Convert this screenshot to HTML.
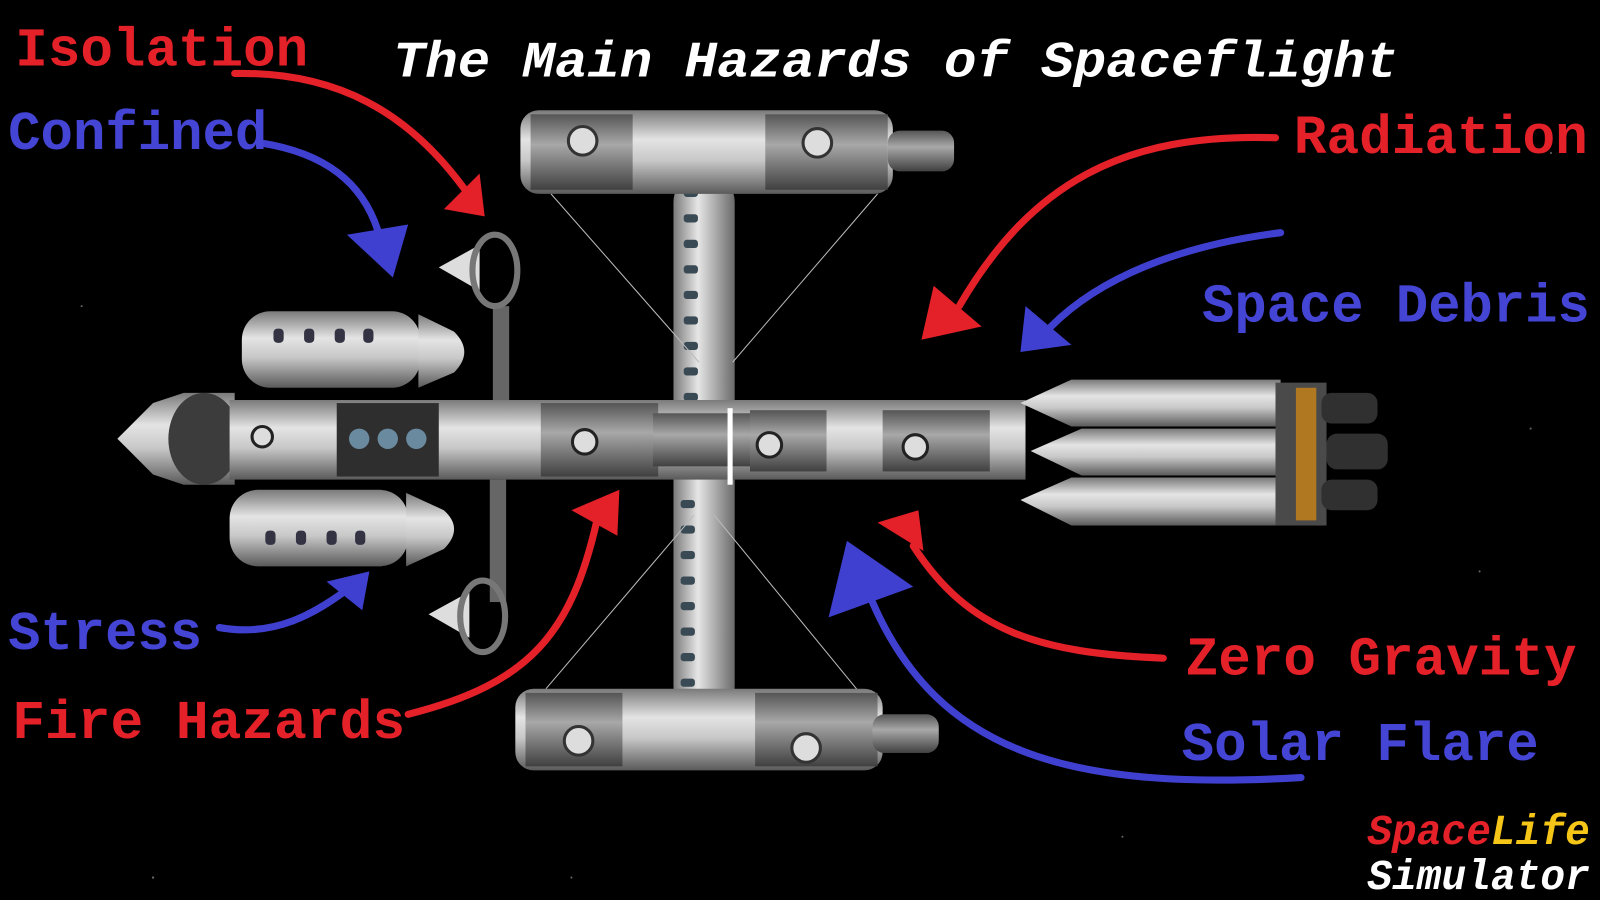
<!DOCTYPE html>
<html><head><meta charset="utf-8"><style>
html,body{margin:0;padding:0;background:#000;width:1600px;height:900px;overflow:hidden}
svg{display:block}
text{font-family:"Liberation Mono",monospace;}
</style></head><body>
<svg width="1600" height="900" viewBox="0 0 1568 882" preserveAspectRatio="none" xmlns="http://www.w3.org/2000/svg">
<defs>
<linearGradient id="cyl" x1="0" y1="0" x2="0" y2="1">
<stop offset="0" stop-color="#7a7a7a"/><stop offset="0.35" stop-color="#e4e4e4"/><stop offset="0.6" stop-color="#c8c8c8"/><stop offset="1" stop-color="#5a5a5a"/></linearGradient>
<linearGradient id="cylv" x1="0" y1="0" x2="1" y2="0">
<stop offset="0" stop-color="#7a7a7a"/><stop offset="0.4" stop-color="#e6e6e6"/><stop offset="1" stop-color="#6a6a6a"/></linearGradient>
<linearGradient id="dark" x1="0" y1="0" x2="0" y2="1">
<stop offset="0" stop-color="#555"/><stop offset="0.4" stop-color="#a8a8a8"/><stop offset="1" stop-color="#404040"/></linearGradient>
</defs>
<rect width="1568" height="882" fill="#000"/>
<g fill="#666"><circle cx="80" cy="300" r="1"/><circle cx="1450" cy="560" r="1"/><circle cx="1500" cy="420" r="1"/><circle cx="150" cy="860" r="1.2"/><circle cx="1100" cy="820" r="1"/><circle cx="560" cy="860" r="1"/><circle cx="1520" cy="150" r="1"/></g>

<rect x="660" y="170" width="60" height="530" rx="28" fill="url(#cylv)"/>
<g fill="#3a4a55"><rect x="670" y="185" width="14" height="8" rx="3"/><rect x="670" y="210" width="14" height="8" rx="3"/><rect x="670" y="235" width="14" height="8" rx="3"/><rect x="670" y="260" width="14" height="8" rx="3"/><rect x="670" y="285" width="14" height="8" rx="3"/><rect x="670" y="310" width="14" height="8" rx="3"/><rect x="670" y="335" width="14" height="8" rx="3"/><rect x="670" y="360" width="14" height="8" rx="3"/><rect x="670" y="385" width="14" height="8" rx="3"/>
<rect x="667" y="490" width="14" height="8" rx="3"/><rect x="667" y="515" width="14" height="8" rx="3"/><rect x="667" y="540" width="14" height="8" rx="3"/><rect x="667" y="565" width="14" height="8" rx="3"/><rect x="667" y="590" width="14" height="8" rx="3"/><rect x="667" y="615" width="14" height="8" rx="3"/><rect x="667" y="640" width="14" height="8" rx="3"/><rect x="667" y="665" width="14" height="8" rx="3"/></g>
<g stroke="#bbb" stroke-width="1"><line x1="540" y1="190" x2="685" y2="355"/><line x1="860" y1="190" x2="718" y2="355"/><line x1="535" y1="675" x2="680" y2="505"/><line x1="850" y1="688" x2="700" y2="505"/></g>

<rect x="510" y="108" width="365" height="82" rx="18" fill="url(#cyl)"/>
<rect x="520" y="112" width="100" height="74" fill="url(#dark)"/>
<rect x="750" y="112" width="120" height="74" fill="url(#dark)"/>
<rect x="870" y="128" width="65" height="40" rx="12" fill="url(#dark)"/>
<circle cx="571" cy="138" r="14" fill="#ddd" stroke="#333" stroke-width="3"/><circle cx="801" cy="140" r="14" fill="#ddd" stroke="#333" stroke-width="3"/>
<rect x="505" y="675" width="360" height="80" rx="18" fill="url(#cyl)"/>
<rect x="515" y="679" width="95" height="72" fill="url(#dark)"/>
<rect x="740" y="679" width="120" height="72" fill="url(#dark)"/>
<rect x="855" y="700" width="65" height="38" rx="12" fill="url(#dark)"/>
<circle cx="567" cy="726" r="14" fill="#ddd" stroke="#333" stroke-width="3"/><circle cx="790" cy="733" r="14" fill="#ddd" stroke="#333" stroke-width="3"/>

<rect x="237" y="305" width="175" height="75" rx="28" fill="url(#cyl)"/>
<path d="M410 308 L445 325 Q465 345 445 365 L410 380 Z" fill="url(#cyl)"/>
<rect x="225" y="480" width="175" height="75" rx="28" fill="url(#cyl)"/>
<path d="M398 483 L435 500 Q455 518 435 538 L398 555 Z" fill="url(#cyl)"/>
<g fill="#334"><rect x="268" y="322" width="10" height="14" rx="4"/><rect x="298" y="322" width="10" height="14" rx="4"/><rect x="328" y="322" width="10" height="14" rx="4"/><rect x="356" y="322" width="10" height="14" rx="4"/>
<rect x="260" y="520" width="10" height="14" rx="4"/><rect x="290" y="520" width="10" height="14" rx="4"/><rect x="320" y="520" width="10" height="14" rx="4"/><rect x="348" y="520" width="10" height="14" rx="4"/></g>
<rect x="483" y="300" width="16" height="110" fill="#666"/><rect x="480" y="470" width="16" height="120" fill="#666"/>
<path d="M430 262 L470 240 L470 285 Z" fill="#ddd"/><ellipse cx="485" cy="265" rx="22" ry="35" fill="none" stroke="#777" stroke-width="6"/>
<path d="M420 602 L460 580 L460 625 Z" fill="#ddd"/><ellipse cx="473" cy="604" rx="22" ry="35" fill="none" stroke="#777" stroke-width="6"/>

<path d="M115 430 L150 395 L180 385 L230 385 L230 475 L180 475 L150 465 Z" fill="url(#cyl)"/>
<ellipse cx="200" cy="430" rx="35" ry="45" fill="#3c3c3c"/>
<rect x="225" y="392" width="780" height="78" fill="url(#cyl)"/>
<rect x="330" y="395" width="100" height="72" fill="#2e2e2e"/>
<circle cx="352" cy="430" r="10" fill="#6a8aa0"/><circle cx="380" cy="430" r="10" fill="#6a8aa0"/><circle cx="408" cy="430" r="10" fill="#6a8aa0"/>
<rect x="530" y="395" width="115" height="72" fill="url(#dark)"/>
<rect x="640" y="405" width="95" height="52" fill="url(#dark)"/>
<rect x="735" y="402" width="75" height="60" fill="url(#dark)"/>
<rect x="865" y="402" width="105" height="60" fill="url(#dark)"/>
<circle cx="257" cy="428" r="10" fill="#ddd" stroke="#222" stroke-width="3"/><circle cx="573" cy="433" r="12" fill="#ddd" stroke="#222" stroke-width="3"/><circle cx="754" cy="436" r="12" fill="#ddd" stroke="#222" stroke-width="3"/><circle cx="897" cy="438" r="12" fill="#ddd" stroke="#222" stroke-width="3"/>
<rect x="713" y="400" width="5" height="75" fill="#fff"/>

<g>
<path d="M1000 395 L1050 372 L1255 372 L1255 418 L1050 418 Z" fill="url(#cyl)"/>
<path d="M1010 442 L1060 420 L1265 420 L1265 466 L1060 466 Z" fill="url(#cyl)"/>
<path d="M1000 490 L1050 468 L1255 468 L1255 515 L1050 515 Z" fill="url(#cyl)"/>
<rect x="1250" y="375" width="50" height="140" fill="#4a4a4a"/>
<rect x="1270" y="380" width="20" height="130" fill="#b07820"/>
<g fill="#303030"><rect x="1295" y="385" width="55" height="30" rx="10"/><rect x="1300" y="425" width="60" height="35" rx="10"/><rect x="1295" y="470" width="55" height="30" rx="10"/></g>
</g>

<g fill="none" stroke-width="7" stroke-linecap="round">
<path d="M230 72 C330 70 400 110 455 185" stroke="#e42028"/>
<path d="M255 140 C320 150 355 180 370 225" stroke="#4040d0"/>
<path d="M1250 135 C1100 130 1010 180 940 300" stroke="#e42028"/>
<path d="M1255 228 C1160 240 1080 270 1030 320" stroke="#4040d0"/>
<path d="M215 615 C270 625 310 600 340 578" stroke="#4040d0"/>
<path d="M400 700 C520 670 560 620 585 510" stroke="#e42028"/>
<path d="M1140 645 C1020 640 950 620 895 535" stroke="#e42028"/>
<path d="M1275 762 C1050 775 920 740 855 590" stroke="#4040d0"/>
</g>
<g>
<polygon points="475,212 435,205 470,170" fill="#e42028"/>
<polygon points="385,272 340,230 400,220" fill="#4040d0"/>
<polygon points="903,333 915,280 962,320" fill="#e42028"/>
<polygon points="1000,345 1005,300 1050,338" fill="#4040d0"/>
<polygon points="362,560 355,598 320,570" fill="#4040d0"/>
<polygon points="607,480 605,525 560,500" fill="#e42028"/>
<polygon points="860,512 900,500 905,540" fill="#e42028"/>
<polygon points="812,605 830,530 895,575" fill="#4040d0"/>
</g>

<g font-size="54" font-weight="bold">
<text x="15" y="64" fill="#e42028" textLength="287" lengthAdjust="spacingAndGlyphs">Isolation</text>
<text x="8" y="146" fill="#4545d5" textLength="254" lengthAdjust="spacingAndGlyphs">Confined</text>
<text x="1268" y="150" fill="#e42028" textLength="288" lengthAdjust="spacingAndGlyphs">Radiation</text>
<text x="1178" y="315" fill="#4545d5" textLength="380" lengthAdjust="spacingAndGlyphs">Space Debris</text>
<text x="8" y="636" fill="#4545d5" textLength="190" lengthAdjust="spacingAndGlyphs">Stress</text>
<text x="12" y="723" fill="#e42028" textLength="385" lengthAdjust="spacingAndGlyphs">Fire Hazards</text>
<text x="1162" y="661" fill="#e42028" textLength="383" lengthAdjust="spacingAndGlyphs">Zero Gravity</text>
<text x="1158" y="745" fill="#4545d5" textLength="350" lengthAdjust="spacingAndGlyphs">Solar Flare</text>
</g>
<text x="385" y="75" fill="#fff" font-size="50" font-style="italic" font-weight="bold" textLength="985" lengthAdjust="spacingAndGlyphs">The Main Hazards of Spaceflight</text>
<text x="1340" y="827" font-size="42" font-style="italic" font-weight="bold" textLength="218" lengthAdjust="spacingAndGlyphs"><tspan fill="#e42028">Space</tspan><tspan fill="#f5c518">Life</tspan></text>
<text x="1340" y="871" fill="#fff" font-size="42" font-style="italic" font-weight="bold" textLength="218" lengthAdjust="spacingAndGlyphs">Simulator</text>
</svg>
</body></html>
